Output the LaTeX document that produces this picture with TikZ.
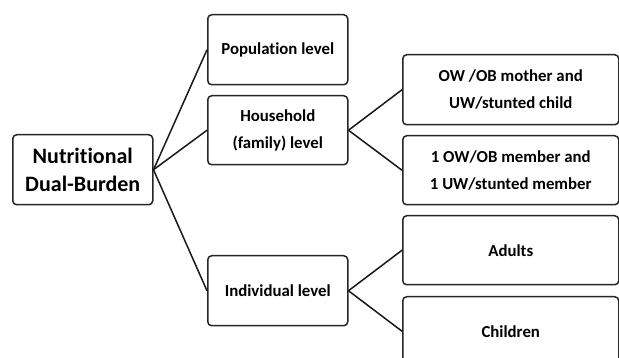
\documentclass[tikz,border=0pt]{standalone}
\usepackage{fontspec}
\setmainfont[Ligatures=NoCommon]{Carlito}
\begin{document}
\begin{tikzpicture}[x=1pt,y=-1pt,
  box/.style={draw=black!85, line width=1.5pt, rounded corners=4pt, fill=white, inner sep=0pt, font=\bfseries\fontsize{16.8}{27}\selectfont, align=center, anchor=north west},
  link/.style={line width=1.5pt, black!90}]
\useasboundingbox (0,0) rectangle (619,358);
\fill[white] (0,0) rectangle (619,358);
\begin{scope}
\clip (0,0) rectangle (619,358);
\node[box, minimum width=140pt, minimum height=70pt, font=\bfseries\fontsize{22}{28.5}\selectfont] (nd) at (12,134) {Nutritional\\Dual-Burden};
\node[box, minimum width=140pt, minimum height=70pt] (pop) at (207,14) {Population level};
\node[box, minimum width=140pt, minimum height=69pt] (hh) at (207,95) {Household\\(family) level};
\node[box, minimum width=140pt, minimum height=70pt] (ind) at (207,255) {Individual level};
\node[box, minimum width=216pt, minimum height=70pt] (mc) at (402,54) {OW /OB mother and\\UW/stunted child};
\node[box, minimum width=216pt, minimum height=69pt] (mm) at (402,135) {1 OW/OB member and\\1 UW/stunted member};
\node[box, minimum width=216pt, minimum height=69pt] (ad) at (402,215) {Adults};
\node[box, minimum width=216pt, minimum height=69pt] (ch) at (402,296) {Children};
\end{scope}
\draw[link] (nd.east) -- (pop.west);
\draw[link] (nd.east) -- (hh.west);
\draw[link] (nd.east) -- (ind.west);
\draw[link] (hh.east) -- (mc.west);
\draw[link] (hh.east) -- (mm.west);
\draw[link] (ind.east) -- (ad.west);
\draw[link] (ind.east) -- (ch.west);
\end{tikzpicture}
\end{document}
